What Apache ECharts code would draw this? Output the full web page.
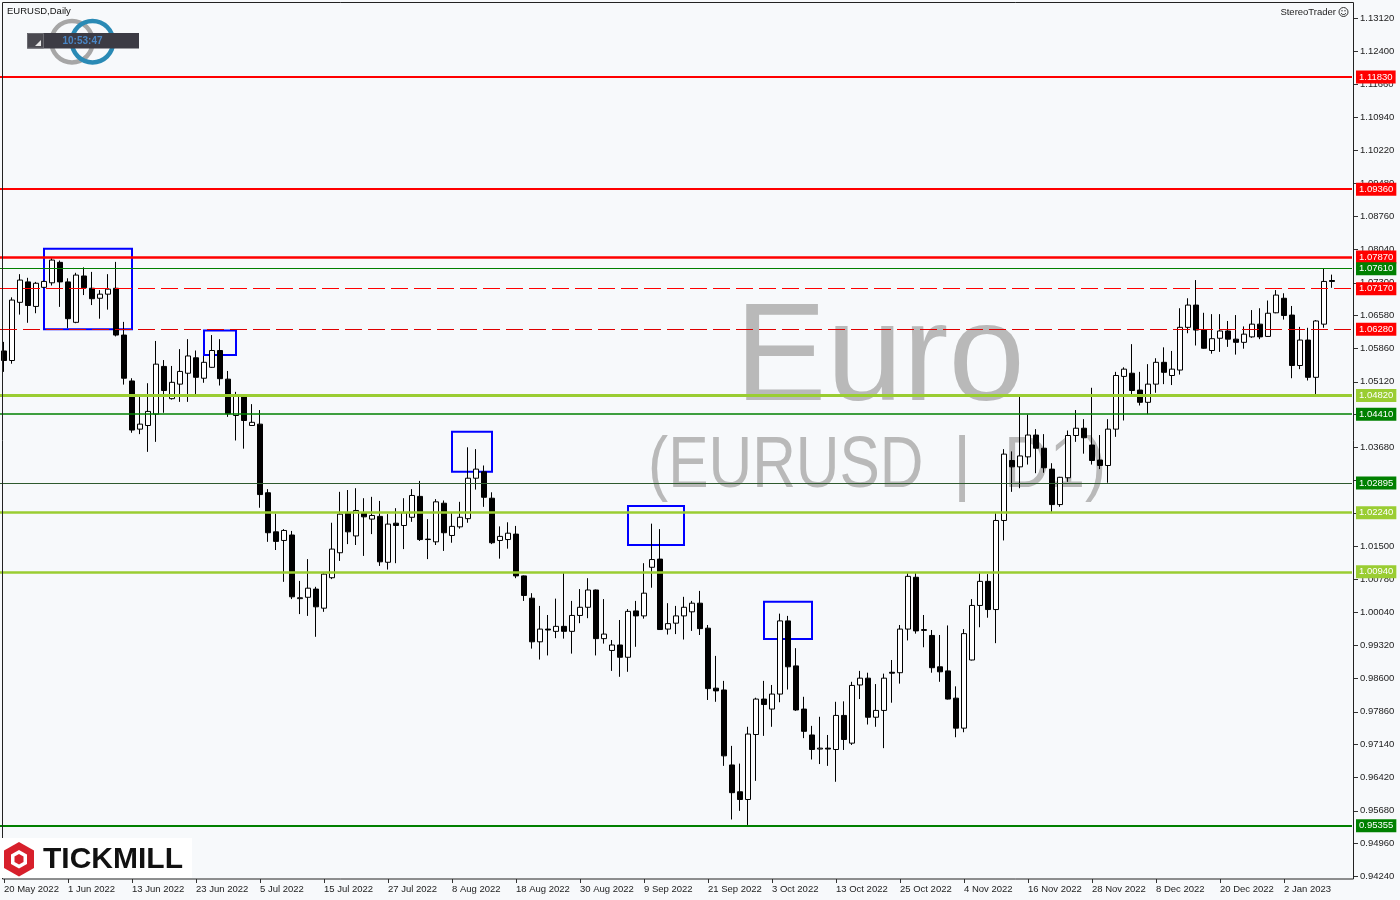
<!DOCTYPE html>
<html><head><meta charset="utf-8">
<script src="https://cdn.jsdelivr.net/npm/echarts@6/dist/echarts.min.js"></script>
<style>html,body{margin:0;padding:0;background:#f7f9fb;}#c{width:1400px;height:900px;}</style>
</head><body><div id="c"></div>
<script>
// ---------- DATA ----------
const startDate = [2022, 4, 20];          // 20 May 2022 (month 0-based)
const closedDays = ['2022-12-26'];        // no bar on this weekday
const slotCount = 169;                    // 167 bars + 2 empty future slots
const opens = [1.0580,1.0559,1.0687,1.0732,1.0678,1.0720,1.0730,1.0775,1.0732,1.0643,1.0745,1.0718,1.0696,1.0705,1.0718,1.0615,1.0514,1.0408,1.0416,1.0441,
1.0546,1.0475,1.0507,1.0531,1.0565,1.0520,1.0544,1.0581,1.0518,1.0438,1.0479,1.0416,1.0419,1.0268,1.0182,1.0163,1.0175,1.0035,1.0038,1.0056,
1.0014,1.0081,1.0136,1.0224,1.0173,1.0224,1.0210,1.0216,1.0115,1.0201,1.0196,1.0214,1.0260,1.0166,1.0160,1.0245,1.0174,1.0193,1.0211,1.0300,
1.0314,1.0256,1.0163,1.0165,1.0177,1.0085,1.0036,0.9940,0.9968,0.9963,0.9974,0.9963,0.9998,1.0016,1.0054,0.9947,0.9921,0.9933,0.9906,1.0008,
0.9997,1.0104,1.0122,0.9968,0.9981,0.9997,1.0006,1.0025,0.9970,0.9838,0.9834,0.9669,0.9610,0.9593,0.9736,0.9814,0.9792,0.9825,0.9986,0.9887,
0.9792,0.9735,0.9704,0.9706,0.9703,0.9778,0.9717,0.9845,0.9860,0.9774,0.9789,0.9873,0.9872,0.9968,1.0082,0.9965,0.9954,0.9885,0.9876,0.9816,
0.9750,0.9900,1.0020,1.0073,1.0011,1.0207,1.0339,1.0325,1.0347,1.0395,1.0366,1.0320,1.0242,1.0301,1.0394,1.0410,1.0373,1.0340,1.0328,1.0408,
1.0524,1.0531,1.0494,1.0467,1.0507,1.0555,1.0526,1.0538,1.0632,1.0681,1.0626,1.0581,1.0608,1.0624,1.0606,1.0599,1.0611,1.0639,1.0612,1.0664,
1.0696,1.0659,1.0548,1.0604,1.0522,1.0639,1.0735];
const closes = [1.0559,1.0692,1.0736,1.0680,1.0729,1.0733,1.0780,1.0732,1.0651,1.0747,1.0719,1.0695,1.0705,1.0716,1.0615,1.0520,1.0406,1.0419,1.0447,1.0551,
1.0493,1.0511,1.0535,1.0569,1.0522,1.0555,1.0581,1.0519,1.0442,1.0481,1.0427,1.0423,1.0264,1.0180,1.0161,1.0185,1.0039,1.0037,1.0058,1.0017,
1.0089,1.0144,1.0221,1.0182,1.0229,1.0215,1.0218,1.0116,1.0199,1.0196,1.0224,1.0262,1.0165,1.0165,1.0248,1.0180,1.0194,1.0214,1.0300,1.0320,
1.0258,1.0158,1.0172,1.0179,1.0085,1.0042,0.9940,0.9968,0.9966,0.9974,0.9963,0.9998,1.0016,1.0054,0.9947,0.9957,0.9933,0.9906,1.0007,0.9997,
1.0047,1.0121,0.9967,0.9980,0.9997,1.0016,1.0025,0.9969,0.9837,0.9832,0.9689,0.9608,0.9593,0.9737,0.9814,0.9802,0.9825,0.9986,0.9885,0.9790,
0.9743,0.9703,0.9706,0.9704,0.9778,0.9725,0.9844,0.9860,0.9774,0.9789,0.9860,0.9871,0.9968,1.0084,0.9964,0.9967,0.9883,0.9874,0.9814,0.9750,
0.9958,1.0020,1.0073,1.0011,1.0207,1.0353,1.0325,1.0349,1.0395,1.0366,1.0323,1.0242,1.0302,1.0394,1.0410,1.0389,1.0339,1.0328,1.0408,1.0526,
1.0540,1.0493,1.0467,1.0507,1.0555,1.0533,1.0540,1.0632,1.0681,1.0626,1.0586,1.0607,1.0624,1.0606,1.0599,1.0617,1.0639,1.0611,1.0663,1.0703,
1.0658,1.0548,1.0604,1.0522,1.0646,1.0733,1.0733];
const lows = [1.0534,1.0552,1.0660,1.0642,1.0663,1.0718,1.0724,1.0677,1.0630,1.0641,1.0703,1.0681,1.0651,1.0671,1.0612,1.0506,1.0400,1.0397,1.0358,1.0380,
1.0444,1.0473,1.0468,1.0468,1.0485,1.0510,1.0543,1.0504,1.0435,1.0383,1.0365,1.0415,1.0235,1.0160,1.0142,1.0072,1.0034,1.0001,0.9997,0.9951,
1.0006,1.0078,1.0118,1.0155,1.0153,1.0129,1.0177,1.0107,1.0099,1.0113,1.0144,1.0204,1.0162,1.0122,1.0153,1.0140,1.0158,1.0189,1.0202,1.0275,
1.0237,1.0155,1.0123,1.0145,1.0080,1.0030,0.9925,0.9901,0.9910,0.9948,0.9947,0.9914,0.9981,0.9992,0.9910,0.9936,0.9876,0.9863,0.9874,0.9929,
0.9991,1.0059,0.9966,0.9956,0.9957,0.9945,0.9964,0.9955,0.9812,0.9808,0.9667,0.9549,0.9568,0.9537,0.9634,0.9733,0.9753,0.9807,0.9835,0.9788,
0.9728,0.9681,0.9671,0.9667,0.9632,0.9702,0.9713,0.9814,0.9758,0.9753,0.9706,0.9806,0.9848,0.9943,0.9958,0.9928,0.9872,0.9852,0.9813,0.9730,
0.9741,0.9899,0.9972,0.9993,0.9937,1.0163,1.0270,1.0278,1.0330,1.0311,1.0312,1.0223,1.0237,1.0292,1.0380,1.0354,1.0330,1.0320,1.0290,1.0391,
1.0427,1.0479,1.0460,1.0441,1.0488,1.0507,1.0505,1.0528,1.0619,1.0592,1.0585,1.0574,1.0578,1.0589,1.0572,1.0585,1.0609,1.0606,1.0611,1.0663,
1.0649,1.0520,1.0540,1.0515,1.0483,1.0631,1.0719];
const highs = [1.0600,1.0698,1.0749,1.0741,1.0732,1.0735,1.0784,1.0779,1.0740,1.0752,1.0764,1.0754,1.0714,1.0749,1.0776,1.0644,1.0520,1.0482,1.0509,1.0602,
1.0560,1.0547,1.0584,1.0606,1.0581,1.0569,1.0615,1.0606,1.0536,1.0490,1.0481,1.0463,1.0450,1.0276,1.0222,1.0188,1.0184,1.0074,1.0122,1.0061,
1.0093,1.0202,1.0270,1.0274,1.0278,1.0256,1.0259,1.0250,1.0221,1.0234,1.0256,1.0276,1.0294,1.0210,1.0254,1.0251,1.0224,1.0248,1.0368,1.0364,
1.0328,1.0269,1.0194,1.0203,1.0195,1.0086,1.0047,1.0019,0.9999,1.0035,1.0091,1.0030,1.0056,1.0080,1.0055,1.0034,0.9944,0.9988,1.0012,1.0030,
1.0113,1.0200,1.0188,1.0025,1.0019,1.0039,1.0030,1.0052,0.9977,0.9909,0.9854,0.9711,0.9672,0.9753,0.9817,0.9854,0.9845,1.0002,0.9997,0.9926,
0.9819,0.9755,0.9775,0.9735,0.9808,0.9809,0.9852,0.9876,0.9872,0.9847,0.9870,0.9900,0.9977,1.0091,1.0093,0.9999,0.9966,0.9955,0.9976,0.9842,
0.9968,1.0034,1.0094,1.0089,1.0223,1.0364,1.0359,1.0482,1.0440,1.0408,1.0397,1.0333,1.0303,1.0405,1.0450,1.0430,1.0499,1.0395,1.0430,1.0534,
1.0544,1.0595,1.0534,1.0551,1.0564,1.0588,1.0580,1.0674,1.0696,1.0736,1.0664,1.0661,1.0661,1.0646,1.0659,1.0634,1.0670,1.0674,1.0691,1.0714,
1.0707,1.0679,1.0633,1.0631,1.0648,1.0762,1.0748];

const yTickLabels = ['0.94240','0.94960','0.95680','0.96420','0.97140','0.97860','0.98600','0.99320','1.00040','1.00780','1.01500','1.02230','1.02960',
'1.03680','1.04400','1.05120','1.05860','1.06580','1.07300','1.08040','1.08760','1.09480','1.10220','1.10940','1.11660','1.12400','1.13120'];
const yMin = 0.94240, yMax = 1.13457;

const levelValues = [1.11830, 1.09360, 1.07870, 1.07610, 1.07170, 1.06280, 1.04820, 1.04410, 1.02895, 1.02240, 1.00940, 0.95355];
const levelLabels = ['1.11830','1.09360','1.07870','1.07610','1.07170','1.06280','1.04820','1.04410','1.02895','1.02240','1.00940','0.95355'];

const boxStart  = [5, 25, 56, 78, 95];
const boxEnd    = [16, 29, 61, 85, 101];
const boxTop    = [1.0805, 1.0625, 1.0402, 1.0239, 1.0028];
const boxBottom = [1.0628, 1.0571, 1.0314, 1.0153, 0.9946];

const labelEvery = 8, lastLabelIndex = 160;

// ---------- STYLES ----------
const RED='#ff0000', GREEN='#008000', LIME='#9acd32';
const levelStyles = [
  {c:RED, w:2, t:'solid', bg:RED}, {c:RED, w:2, t:'solid', bg:RED}, {c:RED, w:2.5, t:'solid', bg:RED},
  {c:GREEN, w:1, t:'solid', bg:GREEN}, {c:RED, w:1, t:[17,6], bg:RED}, {c:'#e00000', w:1, t:[17,6], bg:RED},
  {c:LIME, w:3, t:'solid', bg:LIME}, {c:GREEN, w:1.5, t:'solid', bg:GREEN}, {c:'#2e5a2e', w:1, t:'solid', bg:GREEN},
  {c:LIME, w:2.5, t:'solid', bg:LIME}, {c:LIME, w:2.5, t:'solid', bg:LIME}, {c:GREEN, w:2, t:'solid', bg:GREEN}
];
const FONT = 'Liberation Sans';

// ---------- BUILD ----------
const MON = ['Jan','Feb','Mar','Apr','May','Jun','Jul','Aug','Sep','Oct','Nov','Dec'];
const categories = [];
(function(){
  const d = new Date(Date.UTC(startDate[0], startDate[1], startDate[2]));
  while (categories.length < slotCount) {
    const wd = d.getUTCDay();
    const iso = d.toISOString().slice(0,10);
    if (wd !== 0 && wd !== 6 && closedDays.indexOf(iso) < 0) {
      categories.push(d.getUTCDate() + ' ' + MON[d.getUTCMonth()] + ' ' + d.getUTCFullYear());
    }
    d.setUTCDate(d.getUTCDate() + 1);
  }
})();
const candles = opens.map((o,i)=>[o, closes[i], lows[i], highs[i]]);
const showTick = (i)=> i % labelEvery === 0 && i <= lastLabelIndex;

const markLines = levelValues.map((v,i)=>({
  yAxis: v,
  lineStyle: {color: levelStyles[i].c, width: levelStyles[i].w, type: levelStyles[i].t},
  label: {show:true, position:'end', distance:4, formatter: levelLabels[i], color:'#ffffff',
          backgroundColor: levelStyles[i].bg, padding:[2,3,1,3], fontSize:9.5, fontFamily:FONT}
}));
const markAreas = boxStart.map((s,i)=>[
  {xAxis: categories[s], yAxis: boxTop[i]},
  {xAxis: categories[boxEnd[i]], yAxis: boxBottom[i]}
]);

const chart = echarts.init(document.getElementById('c'), null, {width:1400, height:900});
chart.setOption({
  backgroundColor:'#f7f9fb',
  animation:false,
  grid:{left:0, right:48, top:3, bottom:23.7, show:false},
  xAxis:{type:'category', data:categories, boundaryGap:true, offset:2.7,
    axisLine:{show:false},
    axisTick:{show:true, alignWithLabel:true, interval:(i)=>showTick(i), length:4, lineStyle:{color:'#333'}},
    axisLabel:{interval:(i)=>showTick(i), align:'left', margin:5, fontSize:9.5, color:'#222', fontFamily:FONT},
    splitLine:{show:false}},
  yAxis:{type:'value', position:'right', min:yMin, max:yMax, offset:2,
    splitLine:{show:false}, axisLine:{show:false},
    axisTick:{show:true, customValues: yTickLabels.map(Number), length:4, lineStyle:{color:'#333'}},
    axisLabel:{customValues: yTickLabels.map(Number), formatter:(v)=>v.toFixed(5), margin:6, fontSize:9.5, color:'#222', fontFamily:FONT}},
  series:[{
    type:'candlestick', data:candles, barWidth:5, clip:true,
    itemStyle:{color:'#ffffff', color0:'#000000', borderColor:'#000000', borderColor0:'#000000', borderWidth:1},
    markLine:{silent:true, precision:5, symbol:['none','none'], animation:false, data:markLines},
    markArea:{silent:true, precision:5, itemStyle:{color:'rgba(0,0,0,0)', borderColor:'#0000ff', borderWidth:2}, data:markAreas}
  }],
  graphic:[
    // watermark
    {type:'text', x:735, y:361, z:-5, scaleX:0.98, style:{text:'Euro', font:'140px "Liberation Sans"', fill:'#b9b9b9', align:'left', verticalAlign:'middle'}},
    {type:'text', x:648, y:467, z:-5, scaleX:0.84, style:{text:'(EURUSD', font:'72px "Liberation Sans"', fill:'#b9b9b9', align:'left', verticalAlign:'middle'}},
    {type:'text', x:962, y:467, z:-5, style:{text:'|', font:'72px "Liberation Sans"', fill:'#b9b9b9', align:'center', verticalAlign:'middle'}},
    {type:'text', x:1004, y:467, z:-5, scaleX:0.88, style:{text:'D1)', font:'72px "Liberation Sans"', fill:'#b9b9b9', align:'left', verticalAlign:'middle'}},
    // frame
    {type:'rect', z:50, shape:{x:2.5, y:2.5, width:1351, height:876.5}, style:{fill:'none', stroke:'#222', lineWidth:1}},
    // top-left header
    {type:'text', x:7, y:11, z:60, style:{text:'EURUSD,Daily', font:'9.5px "Liberation Sans"', fill:'#111', align:'left', verticalAlign:'middle'}},
    {type:'ring', z:60, shape:{cx:72, cy:41.7, r:23, r0:18.5}, style:{fill:'#a6a6a6'}},
    {type:'ring', z:61, shape:{cx:92.5, cy:41.7, r:23, r0:18.5}, style:{fill:'#2a8ab5'}},
    {type:'rect', z:62, shape:{x:27, y:33, width:112, height:15.5}, style:{fill:'#3c3b44'}},
    {type:'rect', z:63, shape:{x:27.5, y:33.5, width:16, height:14.5}, style:{fill:'#4a4950', stroke:'#6a6a70', lineWidth:1}},
    {type:'polygon', z:64, shape:{points:[[41,40],[41,46],[35,46]]}, style:{fill:'#e8e8e8'}},
    {type:'text', x:82.5, y:41, z:64, style:{text:'10:53:47', font:'bold 10px "Liberation Sans"', fill:'#4a86c5', align:'center', verticalAlign:'middle'}},
    // StereoTrader
    {type:'text', x:1336, y:12, z:60, style:{text:'StereoTrader', font:'9.5px "Liberation Sans"', fill:'#222', align:'right', verticalAlign:'middle'}},
    {type:'circle', z:60, shape:{cx:1343.5, cy:12, r:4.5}, style:{fill:'none', stroke:'#333', lineWidth:1}},
    {type:'circle', z:60, shape:{cx:1342, cy:10.8, r:0.7}, style:{fill:'#333'}},
    {type:'circle', z:60, shape:{cx:1345, cy:10.8, r:0.7}, style:{fill:'#333'}},
    {type:'arc', z:60, shape:{cx:1343.5, cy:12.3, r:2.4, startAngle:0.3, endAngle:Math.PI-0.3}, style:{stroke:'#333', lineWidth:0.9, fill:'none'}},
    // Tickmill logo
    {type:'rect', z:60, shape:{x:0, y:838, width:192, height:40}, style:{fill:'#ffffff'}},
    {type:'polygon', z:61, shape:{points:[[19,842],[34,850.5],[34,868],[19,876.5],[4,868],[4,850.5]]}, style:{fill:'#d71f2b'}},
    {type:'polygon', z:62, shape:{points:[[19,850],[27,854.5],[27,864],[19,868.5],[11,864],[11,854.5]]}, style:{fill:'#ffffff'}},
    {type:'polygon', z:63, shape:{points:[[19,854],[23.5,856.5],[23.5,862],[19,864.5],[14.5,862],[14.5,856.5]]}, style:{fill:'#d71f2b'}},
    {type:'text', x:43, y:859.5, z:62, style:{text:'TICKMILL', font:'bold 30px "Liberation Sans"', fill:'#111', align:'left', verticalAlign:'middle'}}
  ]
});
</script></body></html>
